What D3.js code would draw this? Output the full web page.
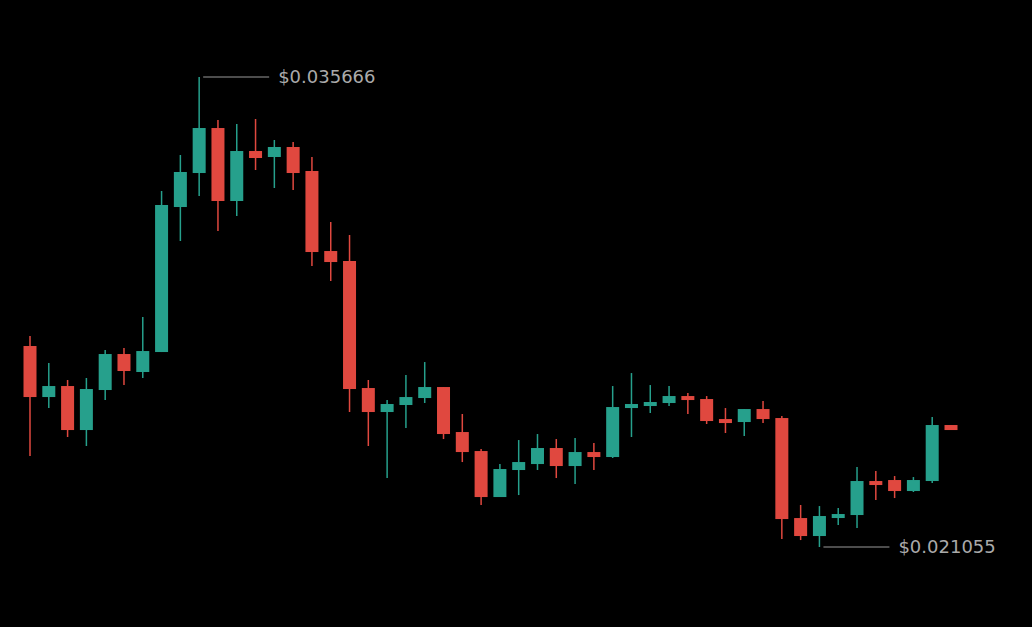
<!DOCTYPE html>
<html>
<head>
<meta charset="utf-8">
<script src="https://cdn.jsdelivr.net/npm/d3@7"></script>
<style>
  body { margin: 0; background: #000; }
  svg { display: block; }
</style>
</head>
<body>
<div id="chart"></div>
<script>
const width = 1032, height = 627;

// OHLC per candle
const opens  = [0.027303,0.025717,0.026059,0.024691,0.025935,0.027054,0.026495,0.027116,0.031624,0.032681,
                0.034080,0.031811,0.033365,0.033179,0.033490,0.032744,0.030256,0.029946,0.025997,0.025251,
                0.025469,0.025686,0.026028,0.024629,0.024038,0.022608,0.023448,0.023634,0.024132,0.023572,
                0.024007,0.023852,0.025375,0.025469,0.025531,0.025748,0.025655,0.025033,0.024940,0.025344,
                0.025064,0.021955,0.021396,0.021986,0.022049,0.023106,0.023137,0.022795,0.023106,0.024847];
const closes = [0.025717,0.026059,0.024691,0.025966,0.027054,0.026526,0.027147,0.031687,0.032713,0.034080,
                0.031811,0.033365,0.033148,0.033490,0.032681,0.030225,0.029914,0.025966,0.025251,0.025500,
                0.025717,0.026028,0.024567,0.024007,0.022608,0.023479,0.023696,0.024132,0.023572,0.024007,
                0.023852,0.025406,0.025500,0.025562,0.025748,0.025624,0.024971,0.024940,0.025344,0.025033,
                0.021924,0.021396,0.022018,0.022080,0.023106,0.023075,0.022795,0.023137,0.024847,0.024691];
const highs  = [0.027614,0.026774,0.026246,0.026308,0.027178,0.027241,0.028204,0.032122,0.033241,0.035666,
                0.034329,0.034205,0.034360,0.033707,0.033645,0.033179,0.031158,0.030754,0.026246,0.025624,
                0.026401,0.026805,0.026028,0.025189,0.024101,0.023634,0.024380,0.024567,0.024411,0.024443,
                0.024287,0.026059,0.026463,0.026090,0.026059,0.025842,0.025748,0.025375,0.025344,0.025593,
                0.025127,0.022360,0.022328,0.022266,0.023541,0.023417,0.023261,0.023230,0.025096,0.024847];
const lows   = [0.023883,0.025375,0.024474,0.024194,0.025624,0.026090,0.026308,0.027116,0.030567,0.031966,
                0.030878,0.031345,0.032775,0.032215,0.032153,0.029790,0.029324,0.025251,0.024194,0.023199,
                0.024753,0.025531,0.024411,0.023696,0.022360,0.022608,0.022670,0.023448,0.023199,0.023012,
                0.023448,0.023821,0.024474,0.025220,0.025437,0.025189,0.024878,0.024598,0.024505,0.024909,
                0.021302,0.021271,0.021055,0.021738,0.021644,0.022515,0.022577,0.022764,0.023044,0.024691];

const maxLabel = "$0.035666", minLabel = "$0.021055";

const data = opens.map((o, i) => ({i, o, c: closes[i], h: highs[i], l: lows[i]}));

const svg = d3.select("#chart").append("svg")
    .attr("width", width).attr("height", height)
    .style("background", "#000");

const x = d3.scaleLinear().domain([0, data.length - 1]).range([30, 951]);
const y = d3.scaleLinear()
    .domain([d3.min(lows), d3.max(highs)])
    .range([547, 77]);

const up = "#26a08c", down = "#e0483f";
const bw = 13;

const g = svg.selectAll("g.candle").data(data).enter().append("g");

g.append("line")
    .attr("x1", d => x(d.i)).attr("x2", d => x(d.i))
    .attr("y1", d => y(d.h)).attr("y2", d => y(d.l))
    .attr("stroke", d => d.c >= d.o ? up : down)
    .attr("stroke-width", 1.5);

g.append("rect")
    .attr("x", d => x(d.i) - bw / 2)
    .attr("width", bw)
    .attr("y", d => y(Math.max(d.o, d.c)))
    .attr("height", d => Math.max(4, Math.abs(y(d.o) - y(d.c))))
    .attr("fill", d => d.c >= d.o ? up : down);

// max / min markers
const iMax = d3.maxIndex(highs), iMin = d3.minIndex(lows);
[[iMax, highs[iMax], maxLabel], [iMin, lows[iMin], minLabel]].forEach(([i, v, t]) => {
  svg.append("line")
      .attr("x1", x(i) + 4).attr("x2", x(i) + 70)
      .attr("y1", y(v)).attr("y2", y(v))
      .attr("stroke", "#999").attr("stroke-width", 1);
  svg.append("text")
      .attr("x", x(i) + 79).attr("y", y(v))
      .attr("dy", "0.35em")
      .attr("fill", "#aaa")
      .style("font-family", "DejaVu Sans, sans-serif")
      .style("font-size", "18px")
      .text(t);
});
</script>
</body>
</html>
